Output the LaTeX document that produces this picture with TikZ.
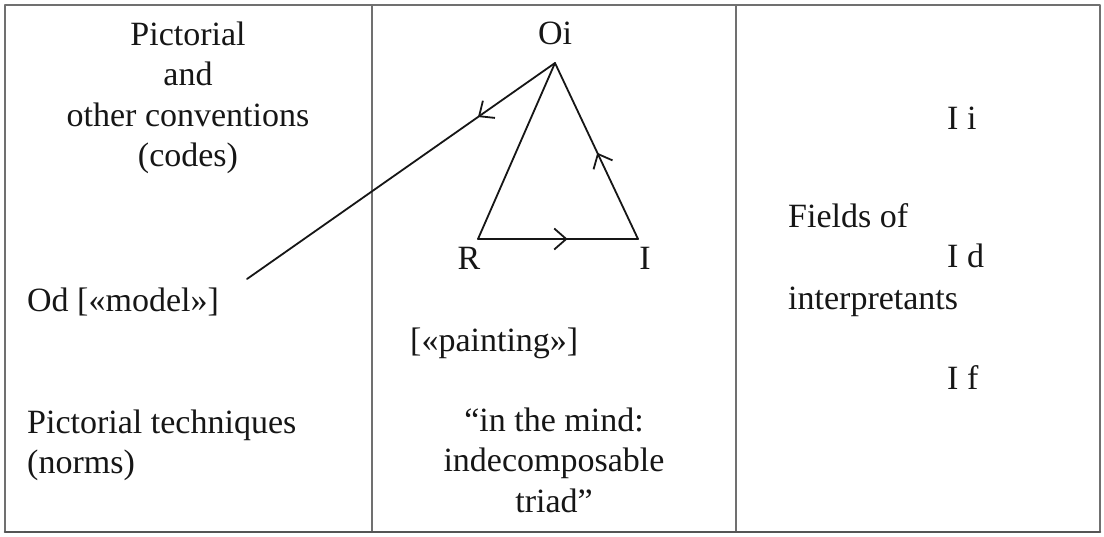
\documentclass[tikz,border=0pt]{standalone}
\usepackage{fontspec}
\setmainfont{Liberation Serif}
\usetikzlibrary{arrows.meta,decorations.markings}
\definecolor{semioInk}{HTML}{161616}
\definecolor{semioRule}{HTML}{707070}
\definecolor{semioShade}{HTML}{555555}

\begin{document}
\begin{tikzpicture}[x=1pt,y=-1pt,>=Latex,line cap=round,line join=round]
\path[use as bounding box,fill=white] (0,0) rectangle (1104,537);
\tikzset{rule/.style={draw=semioRule,line width=1.4pt},edge/.style={draw=semioInk,line width=1.8pt},lbl/.style={text=semioInk,font=\fontsize{34}{40.5}\selectfont,inner sep=0pt},midarrow/.style={postaction={decorate},decoration={markings,mark=at position #1 with {\arrow{Straight Barb[length=12pt,width=21pt,line width=1.8pt]}}}}}
% table frame
\draw[rule] (5,5) rectangle (1100,532);
\draw[rule] (372,5) -- (372,532); \draw[rule] (736,5) -- (736,532);
\draw[draw=semioShade,line width=2.6pt] (5,532) -- (1100,532);
% left column (base = last line)
\node[lbl,anchor=base,align=center] (codesTxt) at (188,167) {Pictorial\\and\\other conventions\\(codes)};
\node[lbl,anchor=base west] (odTxt) at (27,312) {Od [«model»]};
\node[lbl,anchor=base west,align=left] (normsTxt) at (27,474) {Pictorial techniques\\(norms)};
% middle column
\node[lbl,anchor=base] (oiTxt) at (555,45) {Oi};
\node[lbl,anchor=base] (rTxt) at (469,270) {R};
\node[lbl,anchor=base] (iTxt) at (645,270) {I};
\node[lbl,anchor=base west] (paintTxt) at (410,352) {[«painting»]};
\node[lbl,anchor=base,align=center] (mindTxt) at (554,512) {“in the mind:\\indecomposable\\triad”};
% right column
\node[lbl,anchor=base west] (iiTxt) at (947,130) {I i};
\node[lbl,anchor=base west] (fieldsTxt) at (788,228) {Fields of};
\node[lbl,anchor=base west] (idTxt) at (947,268) {I d};
\node[lbl,anchor=base west] (interpTxt) at (788,310) {interpretants};
\node[lbl,anchor=base west] (ifTxt) at (947,390) {I f};
% triad
\coordinate (oi) at (555,63); \coordinate (r) at (478,239); \coordinate (i) at (638,239); \coordinate (od) at (247,279);
\draw[edge] (r) -- (oi);
\draw[edge,midarrow=0.56] (r) -- (i);
\draw[edge,midarrow=0.49] (i) -- (oi);
\draw[edge,midarrow=0.25] (oi) -- (od);
\end{tikzpicture}
\end{document}
